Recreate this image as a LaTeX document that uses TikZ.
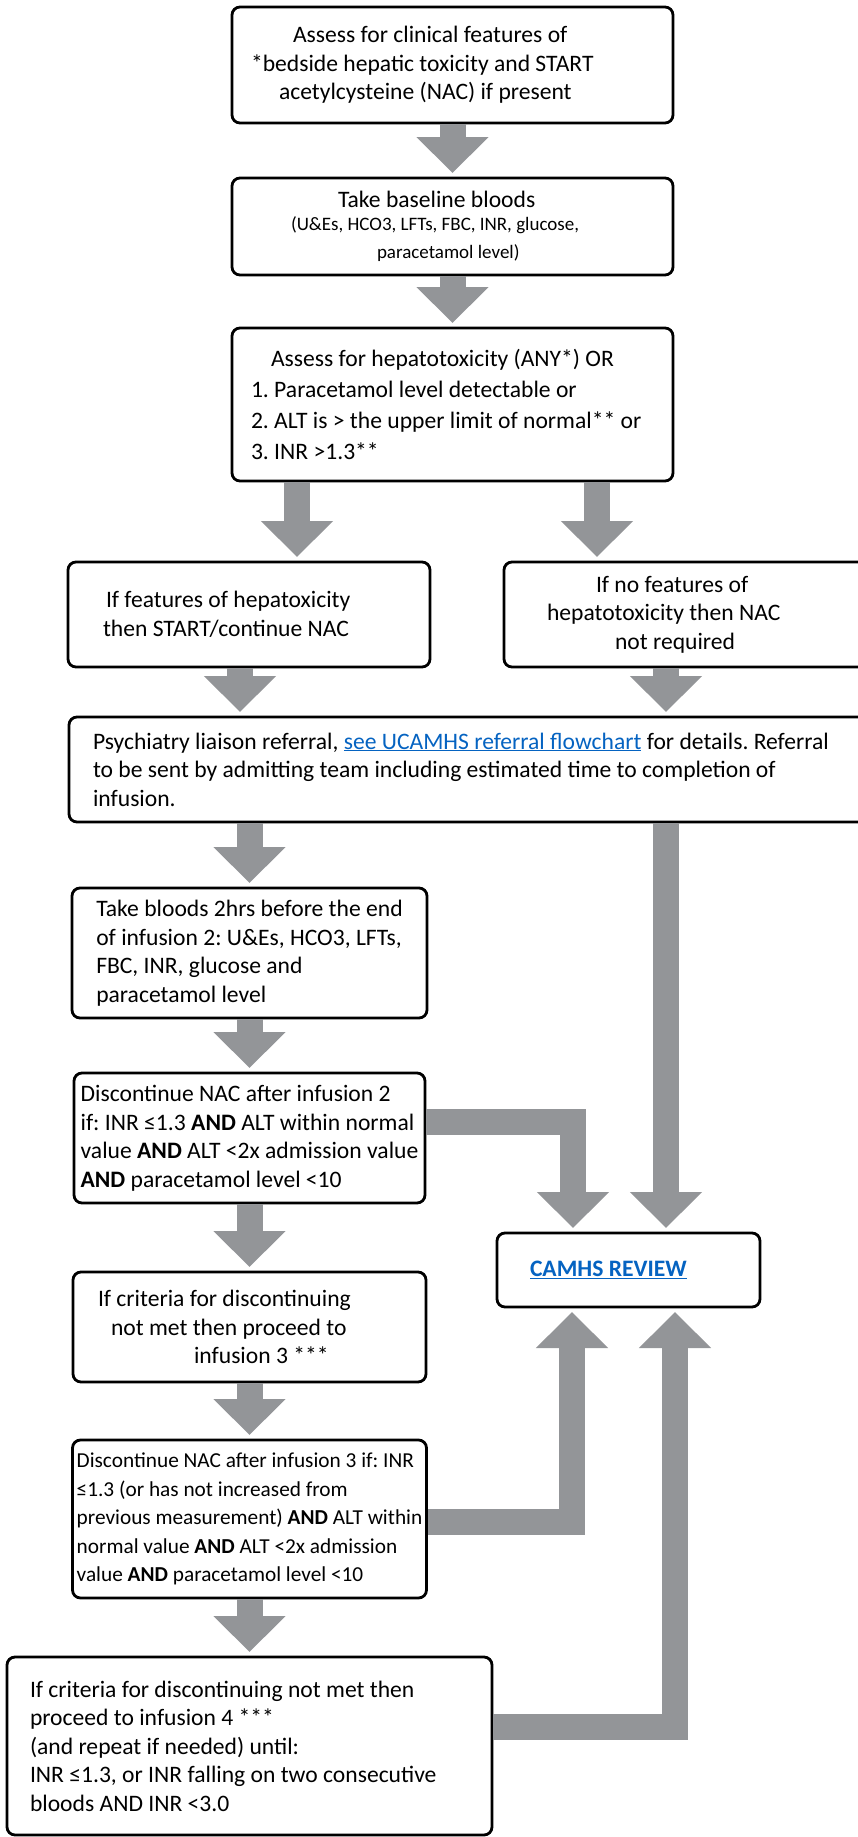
\documentclass[tikz,border=0pt]{standalone}
\usepackage{fontspec}
\setmainfont{Carlito}
\usetikzlibrary{positioning,arrows.meta}

\definecolor{arrowgray}{RGB}{147,149,152}
\definecolor{linkblue}{RGB}{5,99,193}
\frenchspacing

\begin{document}
\begin{tikzpicture}[
    x=1pt, y=1pt,
    box/.style={
        rectangle,
        draw=black,
        line width=2.8pt,
        rounded corners=8pt,
        outer sep=0pt,
        inner ysep=2pt,
        align=flush left,
        font=\fontsize{23.6pt}{28.5pt}\selectfont
    },
    flow/.style={draw=arrowgray, line width=26pt, -{Triangle[width=70pt,length=36pt]}, shorten >=5pt, shorten <=1.4pt},
    elbow/.style={flow, line join=miter}
]
    \useasboundingbox (0,0) rectangle (857,-1837);

    % Main column
    \node[box, minimum width=441pt, minimum height=116pt, inner xsep=19pt, text width=403pt] (features) at (452.5,-65)
        {\hspace*{42pt}Assess for clinical features of\\{}*bedside hepatic toxicity and START\\\hspace*{28pt}acetylcysteine (NAC) if present};
    \node[box, below=55pt of features, minimum width=441pt, minimum height=97pt, inner xsep=59pt, text width=323pt] (baseline)
        {\hspace*{47pt}Take baseline bloods\\{\fontsize{19pt}{23pt}\selectfont (U\&Es, HCO3, LFTs, FBC, INR, glucose,\\\hspace*{86pt}paracetamol level)}};
    \node[box, below=53pt of baseline, minimum width=441pt, minimum height=153pt, inner xsep=19pt, text width=403pt,
        font=\fontsize{23.6pt}{31pt}\selectfont] (assess)
        {\hspace*{20pt}Assess for hepatotoxicity (ANY*) OR\\1. Paracetamol level detectable or\\\mbox{2. ALT is > the upper limit of normal** or}\\3. INR >1.3**};

    % Split
    \node[box, below=81pt of assess, xshift=-203.5pt, minimum width=362pt, minimum height=105pt, inner xsep=35pt, text width=292pt] (posfeat)
        {\hspace*{3pt}If features of hepatoxicity\\then START/continue NAC};
    \node[box, below=81pt of assess, xshift=249.5pt, minimum width=396pt, minimum height=105pt, inner xsep=43pt, text width=310pt] (nofeat)
        {\hspace*{49pt}If no features of\\hepatotoxicity then NAC\\\hspace*{68pt}not required};

    \node[box, below=50pt of posfeat, xshift=235.5pt, minimum width=831pt, minimum height=105pt, inner xsep=24pt, text width=783pt] (referral)
        {Psychiatry liaison referral, \textcolor{linkblue}{\underline{see UCAMHS referral flowchart}} for details. Referral\\to be sent by admitting team including estimated time to completion of\\infusion.};

    % Infusion steps
    \node[box, below=66pt of referral, xshift=-235pt, minimum width=355pt, minimum height=130pt, inner xsep=4pt] (repeatbloods)
        {Take bloods 2hrs before the end\\of infusion 2: U\&Es, HCO3, LFTs,\\FBC, INR, glucose and\\paracetamol level};
    \node[box, below=55pt of repeatbloods, minimum width=351pt, minimum height=130pt, inner xsep=2pt] (stop2)
        {Discontinue NAC after infusion 2\\if: INR ≤1.3 \textbf{AND} ALT within normal\\value \textbf{AND} ALT <2x admission value\\\textbf{AND} paracetamol level <10};
    \node[box, below=69pt of stop2, minimum width=353pt, minimum height=110pt, inner xsep=25pt, text width=303pt] (infusion3)
        {If criteria for discontinuing\\\hspace*{13pt}not met then proceed to\\\hspace*{96pt}infusion 3 ***};
    \node[box, below=58pt of infusion3, minimum width=354pt, minimum height=158pt, inner xsep=2pt,
        font=\fontsize{21.3pt}{28.5pt}\selectfont] (stop3)
        {Discontinue NAC after infusion 3 if: INR\\≤1.3 (or has not increased from\\previous measurement) \textbf{AND} ALT within\\normal value \textbf{AND} ALT <2x admission\\value \textbf{AND} paracetamol level <10};
    \node[box, below=59pt of stop3, minimum width=485pt, minimum height=178pt, inner xsep=23pt, text width=439pt] (infusion4)
        {If criteria for discontinuing not met then\\proceed to infusion 4 ***\\(and repeat if needed) until:\\INR ≤1.3, or INR falling on two consecutive\\bloods AND INR <3.0};

    % Review
    \node[box, minimum width=263pt, minimum height=74pt, inner xsep=33pt, text width=197pt] (camhs) at (628.5,-1270)
        {\textbf{\textcolor{linkblue}{\underline{CAMHS REVIEW}}}};

    % Block arrows
    \draw[flow] (features) -- (baseline);
    \draw[flow] (baseline) -- (assess);
    \draw[flow] ([xshift=48pt]posfeat.north |- assess.south) -- ([xshift=48pt]posfeat.north);
    \draw[flow] ([xshift=-105pt]nofeat.north |- assess.south) -- ([xshift=-105pt]nofeat.north);
    \draw[flow] ([xshift=-9pt]posfeat.south) -- ([xshift=-9pt]posfeat.south |- referral.north);
    \draw[flow] ([xshift=-36pt]nofeat.south) -- ([xshift=-36pt]nofeat.south |- referral.north);
    \draw[flow] (repeatbloods.north |- referral.south) -- (repeatbloods.north);
    \draw[flow] ([xshift=37.5pt]camhs.north |- referral.south) -- ([xshift=37.5pt]camhs.north);
    \draw[flow] (repeatbloods) -- (stop2);
    \draw[elbow] ([yshift=16pt]stop2.east) -| ([xshift=-55.5pt]camhs.north);
    \draw[flow] (stop2) -- (infusion3);
    \draw[flow] (infusion3) -- (stop3);
    \draw[elbow] ([yshift=-3pt]stop3.east) -| ([xshift=-56.5pt]camhs.south);
    \draw[flow] (stop3) -- (infusion4);
    \draw[elbow] ([yshift=19pt]infusion4.east) -| ([xshift=46.5pt]camhs.south);
\end{tikzpicture}
\end{document}
